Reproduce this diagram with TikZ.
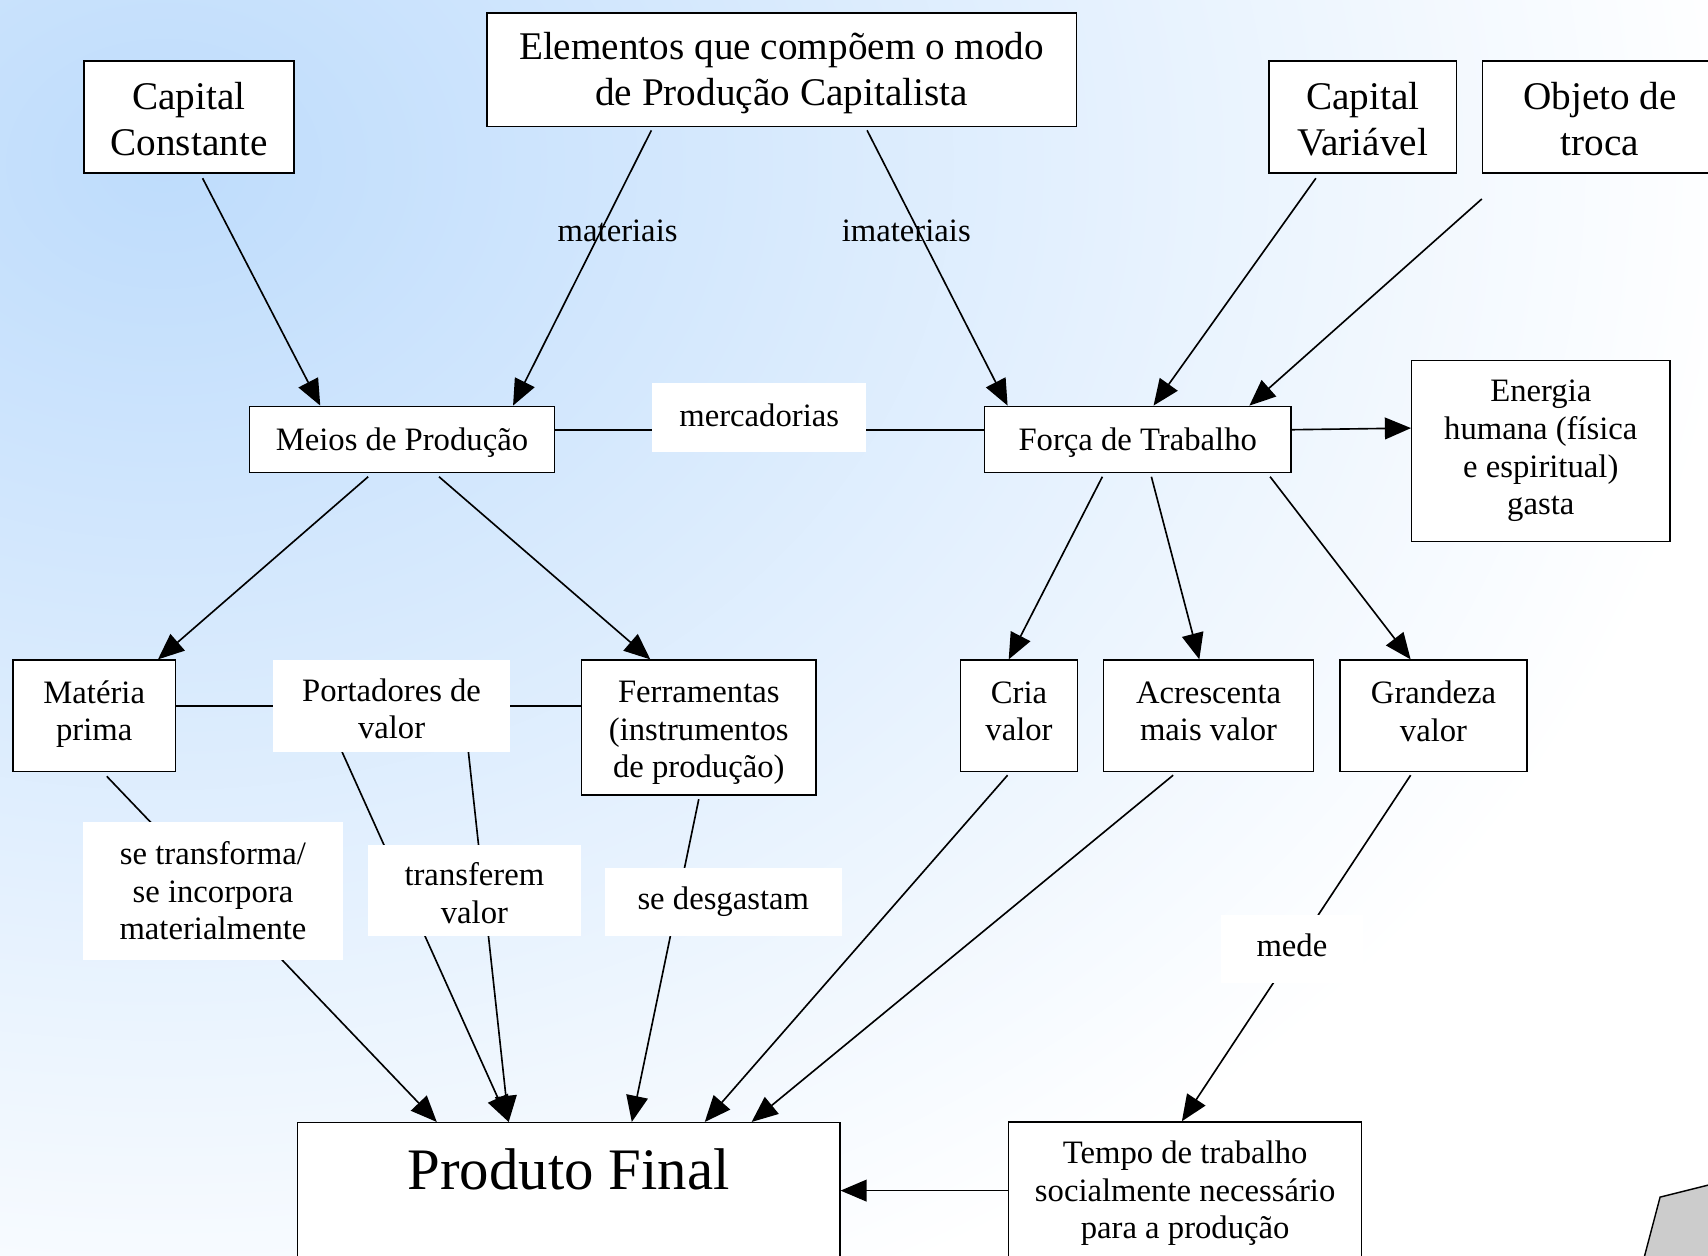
\documentclass[tikz,border=0pt]{standalone}
\usepackage{fontspec}
\setmainfont{Liberation Serif}
\usetikzlibrary{arrows.meta}
\definecolor{bgblue}{RGB}{190,220,252}
\definecolor{shapegray}{RGB}{204,204,204}
\newcommand\hstrut[1]{\rule{0pt}{#1}}
\pgfdeclarelayer{bg}
\pgfdeclarelayer{edges}
\pgfsetlayers{bg,edges,main}
\begin{document}
\begin{tikzpicture}[x=1pt,y=-1pt,
  box/.style={draw=black, line width=1.3pt, fill=white, align=center, inner sep=0pt},
  lbl/.style={fill=white, align=center, inner sep=0pt},
  bigtxt/.style={font=\fontsize{36}{42}\selectfont},
  smalltxt/.style={font=\fontsize{30}{34.5}\selectfont},
  arr/.style={-{Triangle[length=24pt,width=20pt]}, line width=1.5pt},
  plain/.style={line width=1.5pt}]
\useasboundingbox (0,0) rectangle (1568,1153);
\begin{pgfonlayer}{bg}
\clip (0,0) rectangle (1568,1153);
\shade[inner color=bgblue, outer color=white] (150,150) ellipse [x radius=1450pt, y radius=1150pt];
\end{pgfonlayer}

% top row
\node[box, bigtxt, text depth=2pt, minimum width=541pt, minimum height=104pt] (elem) at (717.5,64) {Elementos que compõem o modo\\de Produção Capitalista};
\node[box, bigtxt, minimum width=193pt, minimum height=103pt] (cc) at (173.5,107.5) {\hstrut{28.6pt}Capital\\Constante};
\node[box, bigtxt, minimum width=172pt, minimum height=103pt] (cv) at (1251,107.5) {\hstrut{28.6pt}Capital\\Variável};
\node[box, bigtxt, minimum width=216pt, minimum height=103pt] (obj) at (1469,107.5) {\hstrut{28.6pt}Objeto de\\troca};

% labels on edges (transparent)
\node[smalltxt, inner sep=0pt] (lmat) at (567,212) {materiais};
\node[smalltxt, inner sep=0pt] (limat) at (832,212) {imateriais};

% second row
\node[box, smalltxt, text depth=0pt, minimum width=280pt, minimum height=61pt] (meios) at (369,403.5) {Meios de Produção};
\node[lbl, smalltxt, text depth=4pt, minimum width=196pt, minimum height=63pt] (merc) at (697,383.5) {mercadorias};
\node[box, smalltxt, text depth=0pt, minimum width=281pt, minimum height=61pt] (forca) at (1044.5,403.5) {Força de Trabalho};
\node[box, smalltxt, minimum width=237pt, minimum height=166pt] (energia) at (1414.5,414) {Energia\\humana (física\\e espiritual)\\gasta};

% third row
\node[box, smalltxt, text depth=9pt, minimum width=149pt, minimum height=102pt] (mat) at (86.5,657) {Matéria\\prima};
\node[lbl, smalltxt, minimum width=217pt, minimum height=84pt] (port) at (359.5,648) {\hstrut{26.5pt}Portadores de\\valor};
\node[box, smalltxt, text depth=0pt, minimum width=215pt, minimum height=124pt] (ferr) at (641.5,668) {\hstrut{23pt}Ferramentas\\(instrumentos\\de produção)};
\node[box, smalltxt, text depth=8pt, minimum width=107pt, minimum height=102pt] (cria) at (935.5,657) {Cria\\valor};
\node[box, smalltxt, text depth=8pt, minimum width=193pt, minimum height=102pt] (acr) at (1109.5,657) {Acrescenta\\mais valor};
\node[box, smalltxt, text depth=8pt, minimum width=172pt, minimum height=102pt] (gran) at (1316,657) {Grandeza\\valor};

% edge label boxes
\node[lbl, smalltxt, minimum width=239pt, minimum height=126pt] (setr) at (195.5,818) {se transforma/\\se incorpora\\materialmente};
\node[lbl, smalltxt, minimum width=195pt, minimum height=83pt] (transf) at (435.5,817.5) {\hstrut{26.5pt}transferem\\valor};
\node[lbl, smalltxt, minimum width=218pt, minimum height=62pt] (desg) at (664,828) {se desgastam};
\node[lbl, smalltxt, text depth=6pt, minimum width=130pt, minimum height=62pt] (mede) at (1186,871) {mede};

% bottom row
\node[box, font=\fontsize{54}{62}\selectfont, anchor=north, minimum width=498pt, text height=61pt, text depth=200pt] (prod) at (522,1030) {Produto Final};
\node[box, smalltxt, text depth=1.5pt, minimum width=324pt, minimum height=126pt] (tempo) at (1088,1093) {Tempo de trabalho\\socialmente necessário\\para a produção};

% decorative gray shape bottom right
\filldraw[fill=shapegray, draw=black, line width=1.3pt] (1500,1190) -- (1524,1099) -- (1600,1080) -- (1600,1190) -- cycle;

\begin{pgfonlayer}{edges}
\draw[arr] ([xshift=12.5pt,yshift=-4pt]cc.south) -- ([xshift=-75pt]meios.north);
\draw[arr] ([xshift=-119.5pt,yshift=-3pt]elem.south) -- ([xshift=102pt]meios.north);
\draw[arr] ([xshift=78.5pt,yshift=-3pt]elem.south) -- ([xshift=-119.5pt]forca.north);
\draw[arr] ([xshift=-43pt,yshift=-4pt]cv.south) -- ([xshift=14.5pt]forca.north);
\draw[arr] ([yshift=-23pt]obj.south west) -- ([xshift=102.5pt]forca.north);
\draw[plain] ([yshift=9pt]meios.east) -- ([yshift=9pt]forca.west);
\draw[arr] ([yshift=9pt]forca.east) -- ([yshift=21pt]energia.west);
\draw[arr] ([xshift=-31pt,yshift=-3pt]meios.south) -- ([xshift=58.5pt]mat.north);
\draw[arr] ([xshift=34pt,yshift=-3pt]meios.south) -- ([xshift=-44.5pt]ferr.north);
\draw[plain] ([yshift=9pt]mat.east) -- ([yshift=20pt]ferr.west);
\draw[arr] ([xshift=-32.5pt,yshift=-3pt]forca.south) -- ([xshift=-9.5pt]cria.north);
\draw[arr] ([xshift=12.5pt,yshift=-3pt]forca.south) -- ([xshift=-8.5pt]acr.north);
\draw[arr] ([xshift=121.5pt,yshift=-3pt]forca.south) -- ([xshift=-21pt]gran.north);
\draw[arr] ([xshift=11.5pt,yshift=-4pt]mat.south) -- ([xshift=-121pt]prod.north);
\draw[arr] ([xshift=-45.5pt]port.south) -- ([xshift=-55pt]prod.north);
\draw[arr] ([xshift=70.5pt]port.south) -- ([xshift=-55pt]prod.north);
\draw[arr] ([yshift=-3pt]ferr.south) -- ([xshift=58pt]prod.north);
\draw[arr] ([xshift=-10.5pt,yshift=-3pt]cria.south) -- ([xshift=125pt]prod.north);
\draw[arr] ([xshift=-32.5pt,yshift=-3pt]acr.south) -- ([xshift=168pt]prod.north);
\draw[arr] ([xshift=-21pt,yshift=-3pt]gran.south) -- ([xshift=-3pt]tempo.north);
\draw[arr] (tempo.west) -- ([yshift=-63pt]prod.north east);
\end{pgfonlayer}
\end{tikzpicture}
\end{document}
